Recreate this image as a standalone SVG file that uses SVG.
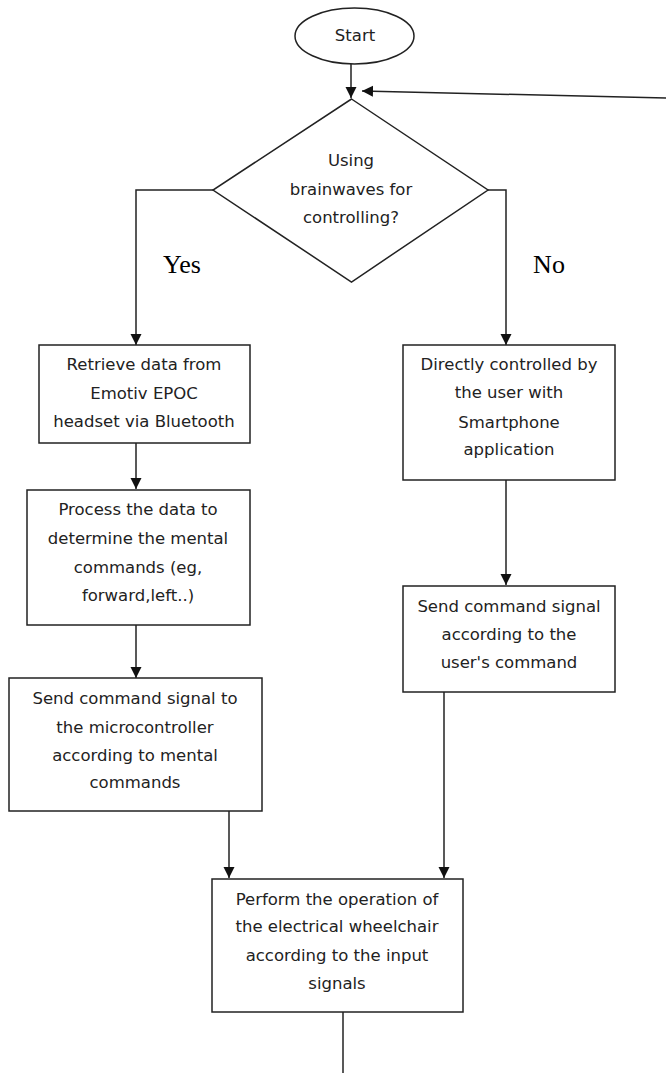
<svg xmlns="http://www.w3.org/2000/svg" width="666" height="1073" viewBox="0 0 666 1073">
<style>
.shape{fill:#fff;stroke:#222;stroke-width:1.5}
.t{font-family:"DejaVu Sans",sans-serif;font-size:16.5px;fill:#222;text-anchor:middle}
.lbl{font-family:"Liberation Serif",serif;font-size:26px;fill:#000;text-anchor:middle}
.c{fill:none;stroke:#222;stroke-width:1.5}
</style>
<defs>
<marker id="arr" markerUnits="userSpaceOnUse" markerWidth="12" markerHeight="12" refX="11" refY="6" orient="auto">
<path d="M0,0.5 L11,6 L0,11.5 z" fill="#111"/>
</marker>
</defs>
<rect width="666" height="1073" fill="#fff"/>
<g id="connectors">
<path class="c" d="M351,64 V98" marker-end="url(#arr)"/>
<path class="c" d="M666,98 L362,91" marker-end="url(#arr)"/>
<path class="c" d="M213,190 H136 V345" marker-end="url(#arr)"/>
<path class="c" d="M488,190 H506 V345" marker-end="url(#arr)"/>
<path class="c" d="M136,443 V489" marker-end="url(#arr)"/>
<path class="c" d="M506,480 V585" marker-end="url(#arr)"/>
<path class="c" d="M136,625 V678" marker-end="url(#arr)"/>
<path class="c" d="M229,811 V878" marker-end="url(#arr)"/>
<path class="c" d="M444,692 V878" marker-end="url(#arr)"/>
<path class="c" d="M343,1012 V1073"/>
</g>
<g id="start">
<ellipse class="shape" cx="354.5" cy="36" rx="59.5" ry="28"/>
<text class="t" x="355" y="41">Start</text>
</g>
<g id="decision">
<polygon class="shape" points="351.5,99 488,190 351.5,282 213,190"/>
<text class="t" x="351" y="166">Using</text>
<text class="t" x="351" y="195">brainwaves for</text>
<text class="t" x="351" y="223">controlling?</text>
</g>
<g id="label-yes"><text class="lbl" x="182" y="273">Yes</text></g>
<g id="label-no"><text class="lbl" x="549" y="273">No</text></g>
<g id="retrieve">
<rect class="shape" x="39" y="345" width="211" height="98"/>
<text class="t" x="144" y="370">Retrieve data from</text>
<text class="t" x="144" y="399">Emotiv EPOC</text>
<text class="t" x="144" y="427">headset via Bluetooth</text>
</g>
<g id="direct">
<rect class="shape" x="403" y="345" width="212" height="135"/>
<text class="t" x="509" y="370">Directly controlled by</text>
<text class="t" x="509" y="398">the user with</text>
<text class="t" x="509" y="428">Smartphone</text>
<text class="t" x="509" y="455">application</text>
</g>
<g id="process">
<rect class="shape" x="27" y="490" width="223" height="135"/>
<text class="t" x="138" y="515">Process the data to</text>
<text class="t" x="138" y="544">determine the mental</text>
<text class="t" x="138" y="573">commands (eg,</text>
<text class="t" x="138" y="601">forward,left..)</text>
</g>
<g id="send-user">
<rect class="shape" x="403" y="586" width="212" height="106"/>
<text class="t" x="509" y="612">Send command signal</text>
<text class="t" x="509" y="640">according to the</text>
<text class="t" x="509" y="668">user's command</text>
</g>
<g id="send-micro">
<rect class="shape" x="9" y="678" width="253" height="133"/>
<text class="t" x="135" y="704">Send command signal to</text>
<text class="t" x="135" y="733">the microcontroller</text>
<text class="t" x="135" y="761">according to mental</text>
<text class="t" x="135" y="788">commands</text>
</g>
<g id="perform">
<rect class="shape" x="212" y="879" width="251" height="133"/>
<text class="t" x="337" y="905">Perform the operation of</text>
<text class="t" x="337" y="932">the electrical wheelchair</text>
<text class="t" x="337" y="961">according to the input</text>
<text class="t" x="337" y="989">signals</text>
</g>
</svg>
